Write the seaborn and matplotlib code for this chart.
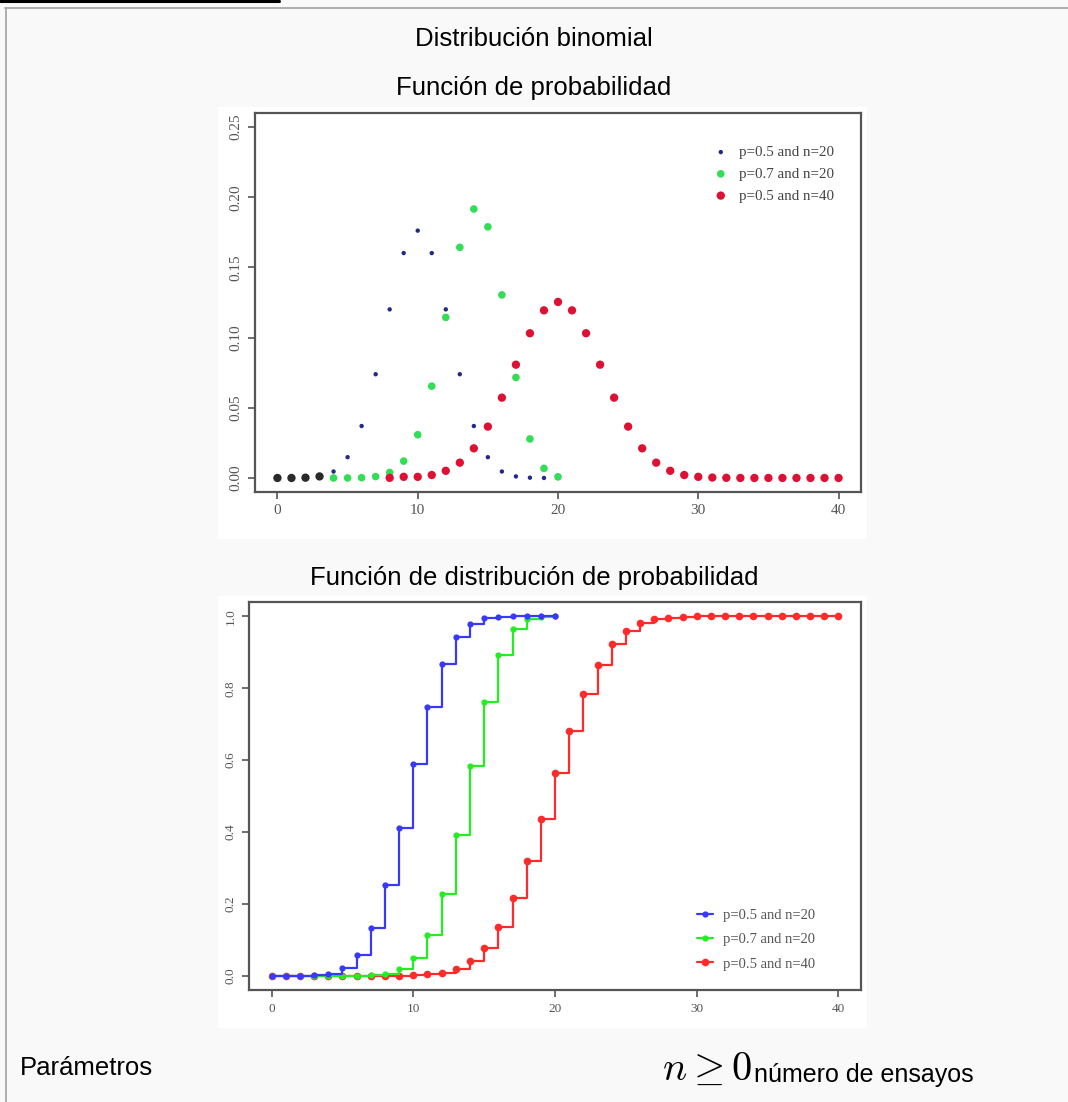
import matplotlib
matplotlib.use("Agg")
import matplotlib.pyplot as plt
import seaborn as sns
import pandas as pd
from matplotlib.patches import Rectangle
from matplotlib.lines import Line2D

sns.set_style("white")
plt.rcParams['font.family'] = ['Liberation Sans', 'DejaVu Sans']
plt.rcParams['mathtext.fontset'] = 'cm'
plt.rcParams['text.color'] = 'black'

# data
k20 = list(range(0, 21))
k40 = list(range(0, 41))

pmf_a = [0.0, 0.0, 0.0002, 0.0011, 0.0046, 0.0148, 0.037, 0.0739, 0.1201, 0.1602, 0.1762,
         0.1602, 0.1201, 0.0739, 0.037, 0.0148, 0.0046, 0.0011, 0.0002, 0.0, 0.0]
pmf_b = [0.0, 0.0, 0.0, 0.0, 0.0, 0.0, 0.0002, 0.001, 0.0039, 0.012, 0.0308,
         0.0654, 0.1144, 0.1643, 0.1916, 0.1789, 0.1304, 0.0716, 0.0278, 0.0068, 0.0008]
pmf_c = [0.0, 0.0, 0.0, 0.0, 0.0, 0.0, 0.0, 0.0, 0.0001, 0.0008, 0.0008,
         0.0021, 0.0051, 0.0109, 0.0211, 0.0366, 0.0572, 0.0807, 0.1031, 0.1194, 0.1254,
         0.1194, 0.1031, 0.0807, 0.0572, 0.0366, 0.0211, 0.0109, 0.0051, 0.0021, 0.0008,
         0.0003, 0.0001, 0.0, 0.0, 0.0, 0.0, 0.0, 0.0, 0.0, 0.0]

cdf_a = [0.0, 0.0, 0.0002, 0.0013, 0.0059, 0.0207, 0.0577, 0.1316, 0.2517, 0.4119, 0.5881,
         0.7483, 0.8684, 0.9423, 0.9793, 0.9941, 0.9987, 0.9998, 1.0, 1.0, 1.0]
cdf_b = [0.0, 0.0, 0.0, 0.0, 0.0, 0.0, 0.0003, 0.0013, 0.0051, 0.0171, 0.048,
         0.1133, 0.2277, 0.392, 0.5836, 0.7625, 0.8929, 0.9645, 0.9924, 0.9992, 1.0]
cdf_c = [0.0, 0.0, 0.0, 0.0, 0.0, 0.0, 0.0, 0.0, 0.0, 0.0003, 0.0011,
         0.0032, 0.0083, 0.0192, 0.0403, 0.0769, 0.1341, 0.2148, 0.3179, 0.4373, 0.5627,
         0.6821, 0.7852, 0.8659, 0.9231, 0.9597, 0.9808, 0.9917, 0.9968, 0.9989, 0.9997,
         0.9999, 1.0, 1.0, 1.0, 1.0, 1.0, 1.0, 1.0, 1.0, 1.0]

labels = ['p=0.5 and n=20', 'p=0.7 and n=20', 'p=0.5 and n=40']
xticks = [0, 10, 20, 30, 40]
pmf_yticks = [0.00, 0.05, 0.10, 0.15, 0.20, 0.25]
cdf_yticks = [0.0, 0.2, 0.4, 0.6, 0.8, 1.0]

W, H = 1068, 1102
fig = plt.figure(figsize=(W / 100, H / 100), dpi=100)
fig.patch.set_facecolor('#f9f9f9')


def fx(px):
    return px / W


def fy(py):
    return 1 - py / H


# page frame
fig.add_artist(Line2D([fx(0), fx(279)], [fy(1), fy(1)], color='black', lw=2.2))
fig.add_artist(Line2D([fx(5), fx(1068)], [fy(8), fy(8)], color='#a8a8a8', lw=1.3))
fig.add_artist(Line2D([fx(6), fx(6)], [fy(8), fy(1102)], color='#a8a8a8', lw=1.3))

# white image areas
for x0, y0, x1, y1 in [(218, 107, 867, 539), (218, 596, 867, 1028)]:
    fig.add_artist(Rectangle((fx(x0), fy(y1)), fx(x1) - fx(x0), fy(y0) - fy(y1),
                             facecolor='white', edgecolor='none', zorder=0))

fig.text(0.5, fy(39), 'Distribución binomial', ha='center', va='center', fontsize=18.5)
fig.text(0.5, fy(88), 'Función de probabilidad', ha='center', va='center', fontsize=18.5)
fig.text(0.5, fy(578), 'Función de distribución de probabilidad', ha='center', va='center', fontsize=18.5)
fig.text(fx(20), fy(1068), 'Parámetros', ha='left', va='center', fontsize=18.5)
fig.text(fx(662), fy(1080), r'$n \geq 0$', ha='left', va='baseline', fontsize=29)
fig.text(fx(754), fy(1082), 'número de ensayos', ha='left', va='baseline', fontsize=18)

serif = ['Liberation Serif', 'DejaVu Serif']


def r_style(ax, yticks, fs, ytfmt):
    for s in ax.spines.values():
        s.set_color('#555555')
        s.set_linewidth(1.6)
    ax.set_xticks(xticks)
    ax.set_yticks(yticks)
    ax.set_xticklabels([str(t) for t in xticks], family=serif, fontsize=fs, color='#555555')
    ax.set_yticklabels([ytfmt.format(t) for t in yticks], family=serif, fontsize=fs,
                       color='#555555', rotation=90, va='center')
    ax.tick_params(direction='out', length=5, width=1.2, color='#555555', pad=4,
                   bottom=True, left=True)
    ax.set_xlabel('')
    ax.set_ylabel('')


# probability mass function
ax1 = fig.add_axes([fx(255), fy(492), fx(861) - fx(255), fy(113) - fy(492)])
ax1.set_facecolor('white')
low = [k for k in k20 if k < 4]
sns.scatterplot(x=k20, y=pmf_a, ax=ax1, color='#202a8a', s=10, edgecolor='none',
                label=labels[0], zorder=3)
sns.scatterplot(x=k20[4:], y=pmf_b[4:], ax=ax1, color='#33dd55', s=30, edgecolor='none',
                label=labels[1], zorder=4)
sns.scatterplot(x=k40[8:], y=pmf_c[8:], ax=ax1, color='#dd1133', s=36, edgecolor='none',
                label=labels[2], zorder=5)
sns.scatterplot(x=low, y=pmf_a[:4], ax=ax1, color='#2a2a2a', s=36, edgecolor='none',
                legend=False, zorder=6)
ax1.set_xlim(-1.6, 41.6)
ax1.set_ylim(-0.01, 0.26)
r_style(ax1, pmf_yticks, 11, '{:.2f}')
leg1 = ax1.legend(loc='upper right', bbox_to_anchor=(0.965, 0.93), borderaxespad=0,
                  frameon=False, prop={'family': serif, 'size': 10.8}, handletextpad=0.2,
                  labelspacing=0.55, markerscale=1.0)
for t in leg1.get_texts():
    t.set_color('#444444')

# cumulative distribution function
ax2 = fig.add_axes([fx(249), fy(990), fx(861) - fx(249), fy(602) - fy(990)])
ax2.set_facecolor('white')
cdf_df = pd.concat([
    pd.DataFrame({'k': k40, 'F': cdf_c, 'serie': labels[2]}),
    pd.DataFrame({'k': k20, 'F': cdf_b, 'serie': labels[1]}),
    pd.DataFrame({'k': k20, 'F': cdf_a, 'serie': labels[0]}),
])
palette = {labels[0]: '#3838ff', labels[1]: '#22ee22', labels[2]: '#ff2a2a'}
for lab, z in [(labels[2], 3), (labels[1], 4), (labels[0], 5)]:
    d = cdf_df[cdf_df['serie'] == lab]
    sns.lineplot(data=d, x='k', y='F', ax=ax2, color=palette[lab], drawstyle='steps-post',
                 marker='o', markersize=4.5 if lab != labels[2] else 5.5,
                 markeredgewidth=0, lw=1.6, label=lab, zorder=z)
ax2.set_xlim(-1.6, 41.6)
ax2.set_ylim(-0.04, 1.04)
r_style(ax2, cdf_yticks, 9.5, '{:.1f}')
h, l = ax2.get_legend_handles_labels()
order = [l.index(x) for x in labels]
leg2 = ax2.legend([h[i] for i in order], [l[i] for i in order], loc='lower right',
                  bbox_to_anchor=(0.935, 0.035), borderaxespad=0, frameon=False,
                  prop={'family': serif, 'size': 10.5}, handlelength=1.1,
                  handletextpad=0.7, labelspacing=0.75)
for t in leg2.get_texts():
    t.set_color('#555555')

fig.savefig('out.png', dpi=100, facecolor=fig.get_facecolor())
